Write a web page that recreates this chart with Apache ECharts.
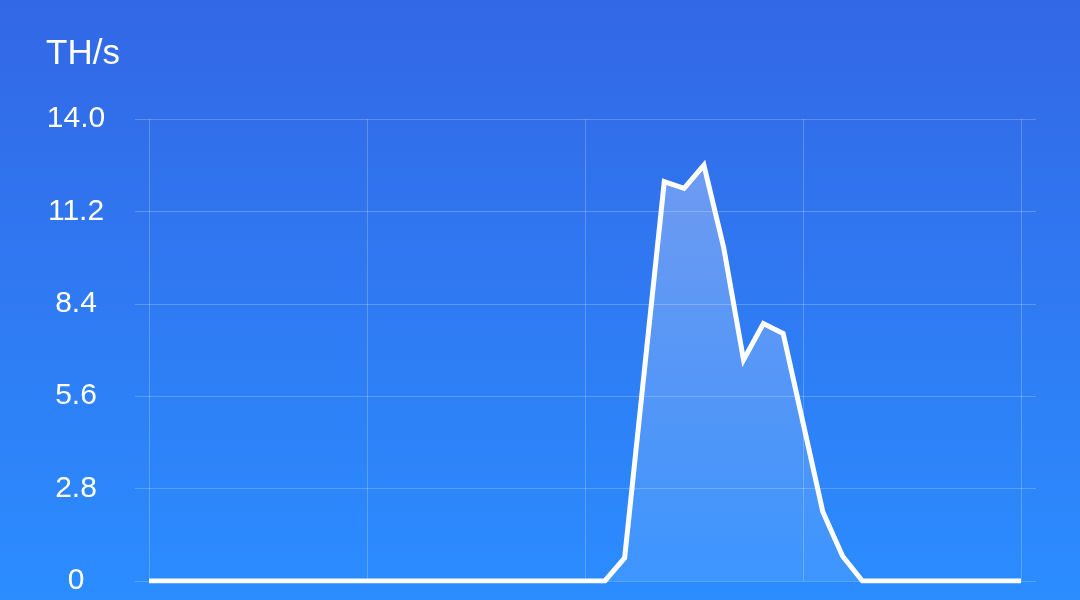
<!DOCTYPE html>
<html>
<head>
<meta charset="utf-8">
<script src="https://cdn.jsdelivr.net/npm/echarts@6/dist/echarts.min.js"></script>
<style>
html,body{margin:0;padding:0;}
#c{width:1080px;height:600px;}
</style>
</head>
<body>
<div id="c"></div>
<script>
// categories: 45 sample slots
var categories = [];
for (var k = 0; k < 45; k++) { categories.push(String(k)); }
var hashrate = [
  0, 0, 0, 0, 0, 0, 0, 0, 0, 0, 0,
  0, 0, 0, 0, 0, 0, 0, 0, 0, 0, 0,
  0, 0, 0.7, 6.4, 12.1, 11.9, 12.6, 10.1, 6.7, 7.8, 7.5,
  4.8, 2.1, 0.75, 0, 0, 0, 0, 0, 0, 0, 0, 0
];
var yTicks = [0, 2.8, 5.6, 8.4, 11.2, 14.0];
var unitLabel = 'TH/s';

var chart = echarts.init(document.getElementById('c'), null, {renderer: 'canvas'});
var font = '"Liberation Sans", Arial, sans-serif';
var gridLine = 'rgba(255,255,255,0.22)';
chart.setOption({
  backgroundColor: {
    type: 'linear', x: 0, y: 0, x2: 0, y2: 1,
    colorStops: [{offset: 0, color: '#3367E5'}, {offset: 1, color: '#2B8DFF'}]
  },
  animation: false,
  graphic: [{
    type: 'text', left: 46, top: 37,
    style: {text: unitLabel, fill: '#ffffff', font: '35px ' + font}
  }],
  grid: [
    {left: 135, right: 44, top: 119, bottom: 19},
    {left: 149, right: 59, top: 119, bottom: 19}
  ],
  xAxis: [
    {gridIndex: 0, type: 'value', min: 0, max: 1, show: false},
    {
      gridIndex: 1, type: 'category', data: categories, boundaryGap: false,
      axisLine: {show: false}, axisTick: {show: false}, axisLabel: {show: false},
      splitLine: {show: true, interval: 10, lineStyle: {color: gridLine, width: 1}}
    }
  ],
  yAxis: [
    {
      gridIndex: 0, type: 'value', min: 0, max: 14, interval: 2.8,
      axisLine: {show: false}, axisTick: {show: false},
      axisLabel: {
        color: '#ffffff', fontSize: 30, fontFamily: font, align: 'center', margin: 59,
        padding: [5, 0, 0, 0],
        formatter: function (v) {
          var r = Math.round(v * 10) / 10;
          for (var i = 0; i < yTicks.length; i++) {
            if (Math.abs(yTicks[i] - r) < 1e-6) {
              return r === 0 ? '0' : yTicks[i].toFixed(1);
            }
          }
          return '';
        }
      },
      splitLine: {show: true, lineStyle: {color: gridLine, width: 1}}
    },
    {
      gridIndex: 1, type: 'value', min: 0, max: 14, interval: 2.8, show: false,
      splitLine: {show: false}
    }
  ],
  series: [{
    type: 'line', xAxisIndex: 1, yAxisIndex: 1, data: hashrate,
    symbol: 'none', smooth: false,
    lineStyle: {color: '#ffffff', width: 5, join: 'miter'},
    areaStyle: {
      color: {
        type: 'linear', x: 0, y: 0, x2: 0, y2: 1,
        colorStops: [{offset: 0, color: 'rgba(255,255,255,0.42)'}, {offset: 1, color: 'rgba(255,255,255,0.12)'}]
      }
    }
  }]
});
</script>
</body>
</html>
